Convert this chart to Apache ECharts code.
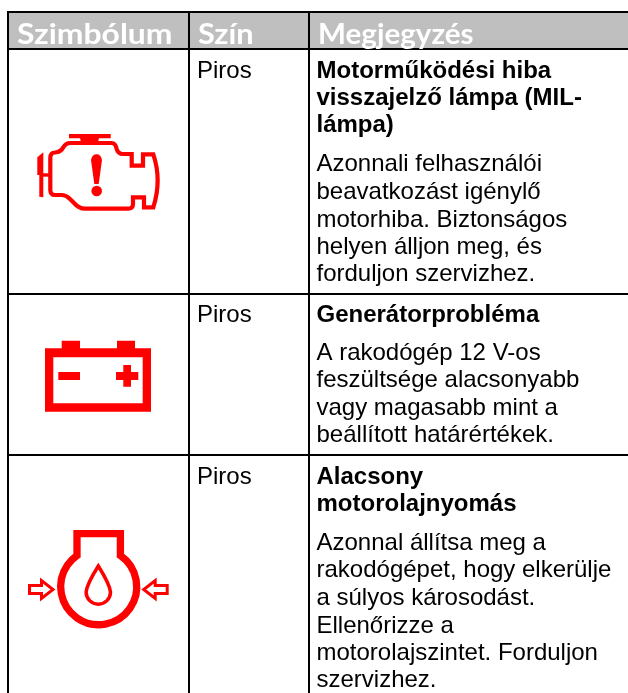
<!DOCTYPE html>
<html>
<head>
<meta charset="utf-8">
<style>
  html, body { margin: 0; padding: 0; background: #fff; }
  #main { width: 628px; height: 693px; overflow: hidden; }
</style>
<script src="https://cdn.jsdelivr.net/npm/echarts@6/dist/echarts.min.js"></script>
</head>
<body>
<div id="main"></div>
<script>
var headers = ['Szimbólum', 'Szín', 'Megjegyzés'];
var colorNames = ['Piros', 'Piros', 'Piros'];
var titles = [
  ['Motorműködési hiba', 'visszajelző lámpa (MIL-', 'lámpa)'],
  ['Generátorprobléma'],
  ['Alacsony', 'motorolajnyomás']
];
var notes = [
  ['Azonnali felhasználói', 'beavatkozást igénylő', 'motorhiba. Biztonságos', 'helyen álljon meg, és', 'forduljon szervizhez.'],
  ['A rakodógép 12 V-os', 'feszültsége alacsonyabb', 'vagy magasabb mint a', 'beállított határértékek.'],
  ['Azonnal állítsa meg a', 'rakodógépet, hogy elkerülje', 'a súlyos károsodást.', 'Ellenőrizze a', 'motorolajszintet. Forduljon', 'szervizhez.']
];

var RED = '#ff0000';
var colX = [8, 189, 309];
var rowY = [12, 49, 294, 455];

function line(x1, y1, x2, y2) {
  return { type: 'line', shape: { x1: x1, y1: y1, x2: x2, y2: y2 }, style: { stroke: '#000', lineWidth: 2 } };
}
// y is the baseline, zrender only knows middle so shift it by the font size
function text(str, x, y, size, weight, family, fill, scaleX) {
  return {
    type: 'text', x: x, y: y - size * 0.26, scaleX: scaleX || 1,
    style: { text: str, fontSize: size, fontWeight: weight, fontFamily: family, fill: fill || '#000', verticalAlign: 'middle' }
  };
}
function outline(d, w) {
  return { type: 'path', shape: { pathData: d }, style: { fill: 'none', stroke: RED, lineWidth: w, lineJoin: 'miter' } };
}
function solid(d) {
  return { type: 'path', shape: { pathData: d }, style: { fill: RED } };
}

function buildTable() {
  var els = [];
  els.push({ type: 'rect', shape: { x: 8, y: 12, width: 620, height: 37 }, style: { fill: '#bfbfbf' } });
  rowY.forEach(function (y) { els.push(line(7, y, 628, y)); });
  colX.forEach(function (x) { els.push(line(x, 11, x, 693)); });

  var headScale = [1.1, 1.06, 1.02];
  headers.forEach(function (h, i) {
    els.push(text(h, colX[i] + 9, 42, 29, 'bold', 'Lato', '#fff', headScale[i]));
  });

  var titleY = [[78, 105, 132], [322], [483.5, 511]];
  var noteY = [
    [171, 198.5, 226.5, 253.5, 281],
    [359.5, 387, 414.5, 441.5],
    [550, 577, 605, 632.5, 660, 687]
  ];
  titles.forEach(function (t, r) {
    els.push(text(colorNames[r], 197, titleY[r][0], 24, 'normal', 'Liberation Sans'));
    t.forEach(function (s, i) { els.push(text(s, 316.5, titleY[r][i], 24, 'bold', 'Liberation Sans')); });
    notes[r].forEach(function (s, i) { els.push(text(s, 316.5, noteY[r][i], 24, 'normal', 'Liberation Sans')); });
  });
  return els;
}

function buildIcons() {
  var els = [];
  // engine
  els.push(solid('M69 134 H110.7 V138.3 H99 L98 142 H81 L80 138.3 H69 Z'));
  els.push(solid('M37.3 157.3 L43.3 152.3 V197.3 L39.3 196.7 V175 H37.3 Z'));
  els.push(solid('M43 173.3 H49 V176.7 H43 Z'));
  els.push(outline('M111.7 143 H70 Q66 143 63.5 147 Q61 152 55 152.5 Q50.3 152.5 50.3 158 V190 Q50.3 195 55 195 H61.7 Q66 195 70 199 L74 203 Q79 208.7 85 208.7 H128 Q133 208.7 133 204 V197.3 H144 V207.3 H153.3 Q162 180 153.3 154.3 H143 V165.7 H131.7 V154 H123 Q118 154 116.7 149 Q115.5 143 111.7 143 Z', 4.2));
  els.push(solid('M91 160 Q92 154.3 96.5 154.3 Q101 154.3 102 160 L98.7 184 H94.3 Z'));
  els.push({ type: 'circle', shape: { cx: 96.7, cy: 191, r: 5.3 }, style: { fill: RED } });
  // battery
  els.push(solid('M45 348.3 H61.7 V340.7 H80 V348.3 H117 V340.7 H135 V348.3 H151 V411.7 H45 Z M53.3 357.3 V403.3 H142.7 V357.3 Z'));
  els.push(solid('M58.3 372 H80 V380 H58.3 Z'));
  els.push(solid('M123.3 365 H131 V372 H138.3 V380 H131 V386.7 H123.3 V380 H116 V372 H123.3 Z'));
  // oil pressure
  els.push(outline('M77 555.5 V533.7 H120.4 V555.5 A38 38 0 1 1 77 555.5 Z', 7.3));
  els.push(outline('M98.3 566 Q87 584 86.1 592 A12.2 12.2 0 0 0 110.5 592 Q109.6 584 98.3 566 Z', 3.5));
  els.push(outline('M29.5 585.5 H41.5 V580.5 L53 589.5 L41.5 598.5 V593.5 H29.5 Z', 3));
  els.push(outline('M167.2 585.5 H155.2 V580.5 L143.7 589.5 L155.2 598.5 V593.5 H167.2 Z', 3));
  return els;
}

var myChart = echarts.init(document.getElementById('main'));
myChart.setOption({
  animation: false,
  backgroundColor: '#fff',
  series: [{
    type: 'custom',
    coordinateSystem: 'none',
    silent: true,
    data: [0],
    renderItem: function () {
      return { type: 'group', children: buildTable().concat(buildIcons()) };
    }
  }]
});
</script>
</body>
</html>
